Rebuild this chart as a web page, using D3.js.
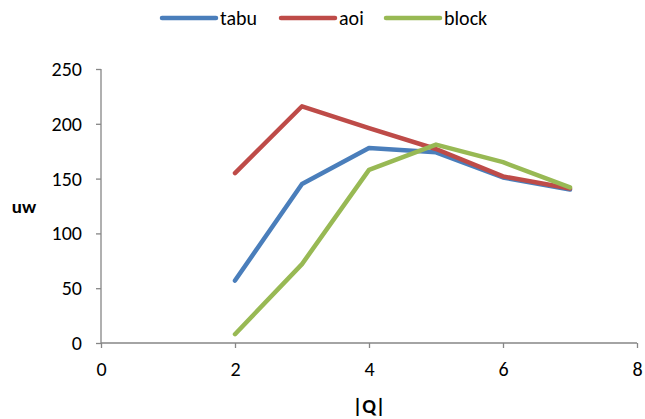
<!DOCTYPE html>
<html>
<head>
<meta charset="utf-8">
<script src="https://cdn.jsdelivr.net/npm/d3@7"></script>
<style>
  body { margin: 0; background: #fff; }
  svg { font-family: Carlito, Calibri, Lato, sans-serif; }
</style>
</head>
<body>
<script>
const WIDTH = 645;
const HEIGHT = 419;

// data
var qValues = [2, 3, 4, 5, 6, 7];
var tabu = [57, 145, 178, 174, 151, 140];
var aoi = [155, 216, 196, 177, 152, 141];
var block = [8, 72, 158, 181, 165, 142];
var seriesNames = ['tabu', 'aoi', 'block'];
var seriesColors = ['#4A7EBB', '#BE4B48', '#98B954'];
var xTicks = [0, 2, 4, 6, 8];
var yTicks = [0, 50, 100, 150, 200, 250];

var translate = function(x, y){
  return "translate(" + x + "," + y + ")";
};

var xScale = d3.scaleLinear().domain([0, 8]).range([101, 637]);
var yScale = d3.scaleLinear().domain([0, 250]).range([343, 69]);

var svg = d3.select('body').append('svg')
  .attr('width', WIDTH)
  .attr('height', HEIGHT);

var xAxis = d3.axisBottom(xScale).tickValues(xTicks).tickSize(5).tickPadding(14);
var yAxis = d3.axisLeft(yScale).tickValues(yTicks).tickSize(5).tickPadding(14);

var gx = svg.append('g')
  .attr('transform', translate(0, yScale(0)))
  .call(xAxis);

var gy = svg.append('g')
  .attr('transform', translate(xScale(0), 0))
  .call(yAxis);

[gx, gy].forEach(function(g){
  g.attr('font-family', null).attr('font-size', 20);
  g.selectAll('path, line').attr('stroke', '#868686').attr('stroke-width', 1.3);
  g.selectAll('text').attr('fill', '#000');
});
gx.select('.domain').attr('d', 'M' + xScale(0) + ',0H' + xScale(8));
gy.select('.domain').attr('d', 'M0,' + yScale(0) + 'V' + yScale(250));

var series = [tabu, aoi, block];

var line = d3.line()
  .x(function(d, i){ return xScale(qValues[i]); })
  .y(function(d){ return yScale(d); });

series.forEach(function(values, i){
  svg.append('path')
    .attr('d', line(values))
    .attr('fill', 'none')
    .attr('stroke', seriesColors[i])
    .attr('stroke-width', 4.5)
    .attr('stroke-linejoin', 'round')
    .attr('stroke-linecap', 'round');
});

// axis titles
svg.append('text')
  .attr('x', 24).attr('y', 213)
  .attr('text-anchor', 'middle')
  .attr('font-size', 19).attr('font-weight', 'bold')
  .text('uw');

svg.append('text')
  .attr('x', 369).attr('y', 413)
  .attr('text-anchor', 'middle')
  .attr('font-size', 20).attr('font-weight', 'bold')
  .text('|Q|');

// legend
var legendX = [162, 281, 386];
var legend = svg.append('g');
seriesNames.forEach(function(name, i){
  legend.append('line')
    .attr('x1', legendX[i]).attr('x2', legendX[i] + 54)
    .attr('y1', 18).attr('y2', 18)
    .attr('stroke', seriesColors[i])
    .attr('stroke-width', 4.5)
    .attr('stroke-linecap', 'round');
  legend.append('text')
    .attr('x', legendX[i] + 58).attr('y', 25)
    .attr('font-size', 20)
    .text(name);
});
</script>
</body>
</html>
